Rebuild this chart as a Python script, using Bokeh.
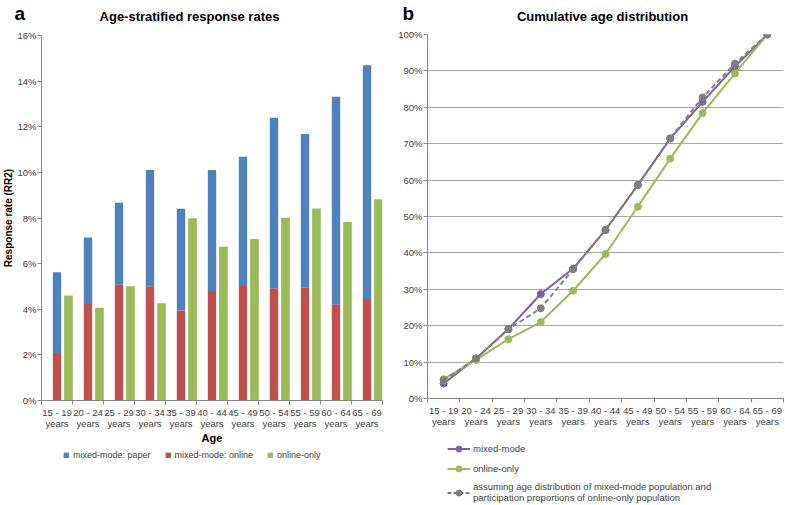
import numpy as np
from bokeh.plotting import figure
from bokeh.models import (ColumnDataSource, FixedTicker, PrintfTickFormatter, Label,
                          Legend, LegendItem, Range1d)
from bokeh.layouts import row, column
from bokeh.embed import file_html
from bokeh.resources import INLINE

# ---------------- data ----------------
ages = ["15 - 19", "20 - 24", "25 - 29", "30 - 34", "35 - 39", "40 - 44",
        "45 - 49", "50 - 54", "55 - 59", "60 - 64", "65 - 69"]
tick_labels = [a + "\nyears" for a in ages]

# panel a: response rates (%)
mixed_online = [2.08, 4.23, 5.07, 4.99, 3.94, 4.80, 5.02, 4.92, 4.94, 4.22, 4.45]
mixed_paper = [3.54, 2.92, 3.60, 5.11, 4.47, 5.30, 5.66, 7.47, 6.74, 9.09, 10.25]
online_only = [4.60, 4.07, 5.01, 4.26, 7.99, 6.74, 7.08, 8.01, 8.42, 7.82, 8.82]
y_ticks_a = [0, 2, 4, 6, 8, 10, 12, 14, 16]

# panel b: cumulative age distribution (%)
cum_mixed = [4.1, 11.0, 19.1, 28.7, 35.7, 46.3, 58.7, 71.4, 81.5, 91.2, 100.0]
cum_online = [5.3, 10.6, 16.3, 21.0, 29.6, 39.7, 52.7, 65.9, 78.4, 89.3, 100.0]
cum_assumed = [5.0, 11.0, 19.0, 24.8, 35.5, 46.3, 58.6, 71.5, 82.7, 92.0, 100.0]
y_ticks_b = [0, 10, 20, 30, 40, 50, 60, 70, 80, 90, 100]

# ---------------- style ----------------
FONT = "Liberation Sans"
BLUE = "#4F81BD"
RED = "#C0504D"
GREEN = "#9BBB59"
PURPLE = "#7E62A1"
GRAY = "#7F7F7F"
AXIS = "#868686"
TXT = "#404040"

n = len(ages)
centers = list(np.arange(n) + 0.5)
bounds = list(range(n + 1))
overrides = {float(c): lab for c, lab in zip(centers, tick_labels)}


def style_axes(p, yticks):
    xa = p.xaxis[0]
    xa.ticker = FixedTicker(ticks=centers, minor_ticks=bounds)
    xa.major_label_overrides = overrides
    xa.major_tick_out = 0
    xa.major_tick_in = 0
    xa.minor_tick_out = 4
    xa.minor_tick_in = 0
    xa.minor_tick_line_color = AXIS
    xa.axis_line_color = AXIS
    xa.major_label_text_font = FONT
    xa.major_label_text_font_size = "9.5px"
    xa.major_label_text_color = TXT
    xa.major_label_text_line_height = 1.0
    xa.major_label_standoff = 2
    ya = p.yaxis[0]
    ya.ticker = FixedTicker(ticks=yticks)
    ya.formatter = PrintfTickFormatter(format="%d%%")
    ya.major_tick_out = 4
    ya.major_tick_in = 0
    ya.minor_tick_out = 0
    ya.minor_tick_in = 0
    ya.major_tick_line_color = AXIS
    ya.axis_line_color = AXIS
    ya.major_label_text_font = FONT
    ya.major_label_text_font_size = "9.5px"
    ya.major_label_text_color = TXT
    ya.major_label_standoff = 1
    p.outline_line_color = None
    p.xgrid.visible = False


def blank(w, h):
    f = figure(width=w, height=h, x_range=Range1d(0, 1), y_range=Range1d(1000, 1001),
               output_backend="svg", toolbar_location=None, min_border=0,
               x_axis_location=None, y_axis_location=None)
    f.outline_line_color = None
    f.grid.visible = False
    return f


def label(text, x, y, size, align="left"):
    return Label(x=x, y=y, x_units="screen", y_units="screen", text=text,
                 text_font=FONT, text_font_style="bold", text_font_size=size,
                 text_align=align, text_baseline="middle", text_color="#000000")


W1, W2 = 392, 392
HH = 28
TOTAL = 503

# ---------------- header (titles) ----------------
hd = blank(W1 + W2, HH)
hd.add_layout(label("a", 14, 15, "19px"))
hd.add_layout(label("Age-stratified response rates", 189, 12, "13px", "center"))
hd.add_layout(label("b", 402, 15, "19px"))
hd.add_layout(label("Cumulative age distribution", 602, 12, "13px", "center"))

# ---------------- panel a ----------------
H1 = 418
p1 = figure(width=W1, height=H1, x_range=Range1d(0, n), y_range=Range1d(0, 16),
            output_backend="svg", toolbar_location=None,
            min_border_left=38, min_border_right=10, min_border_top=7, min_border_bottom=45)
style_axes(p1, y_ticks_a)
p1.ygrid.visible = False
xa1 = p1.xaxis[0]
xa1.axis_label = "Age"
xa1.axis_label_text_font = FONT
xa1.axis_label_text_font_style = "bold"
xa1.axis_label_text_font_size = "11px"
xa1.axis_label_text_color = "#000000"
xa1.axis_label_standoff = 0
ya1 = p1.yaxis[0]
ya1.axis_label = "Response rate (RR2)"
ya1.axis_label_text_font = FONT
ya1.axis_label_text_font_style = "bold"
ya1.axis_label_text_font_size = "10px"
ya1.axis_label_text_color = "#000000"
ya1.axis_label_standoff = 0

src_a = ColumnDataSource(dict(x=centers, x2=[c + 0.37 for c in centers],
                              online=mixed_online, paper=mixed_paper, only=online_only))
p1.vbar_stack(["online", "paper"], x="x", width=0.27, color=[RED, BLUE],
              line_color=None, source=src_a)
p1.vbar(x="x2", top="only", width=0.28, color=GREEN, line_color=None, source=src_a)

fa = blank(W1, TOTAL - HH - H1)
k_paper = fa.vbar(x="x", top="paper", width=0.27, color=BLUE, source=src_a)
k_online = fa.vbar(x="x", top="online", width=0.27, color=RED, source=src_a)
k_only = fa.vbar(x="x2", top="only", width=0.28, color=GREEN, source=src_a)
leg_a = Legend(items=[LegendItem(label="mixed-mode: paper", renderers=[k_paper]),
                      LegendItem(label="mixed-mode: online", renderers=[k_online]),
                      LegendItem(label="online-only", renderers=[k_only])],
               orientation="horizontal", location=(22, 42),
               border_line_color=None, background_fill_alpha=0,
               label_text_font=FONT, label_text_font_size="9px", label_text_color=TXT,
               glyph_width=6, glyph_height=6, label_height=12, label_standoff=4,
               spacing=14, padding=0, margin=0)
fa.add_layout(leg_a)

# ---------------- panel b ----------------
H2 = 408
p2 = figure(width=W2, height=H2, x_range=Range1d(0, n), y_range=Range1d(0, 100),
            output_backend="svg", toolbar_location=None,
            min_border_left=35, min_border_right=1, min_border_top=6, min_border_bottom=38)
style_axes(p2, y_ticks_b)
p2.ygrid.ticker = FixedTicker(ticks=y_ticks_b)
p2.ygrid.grid_line_color = "#A6A6A6"
p2.ygrid.grid_line_width = 1

src_b = ColumnDataSource(dict(x=centers, mixed=cum_mixed, online=cum_online, assumed=cum_assumed))
p2.line("x", "mixed", color=PURPLE, line_width=2, source=src_b)
p2.scatter("x", "mixed", size=7, color=PURPLE, source=src_b)
p2.line("x", "online", color=GREEN, line_width=2, source=src_b)
p2.scatter("x", "online", size=7, color=GREEN, source=src_b)
p2.line("x", "assumed", color=GRAY, line_width=2, line_dash="5 3", source=src_b)
p2.scatter("x", "assumed", size=7, color=GRAY, source=src_b)

fb = blank(W2, TOTAL - HH - H2)
km_l = fb.line("x", "mixed", color=PURPLE, line_width=2, source=src_b)
km_s = fb.scatter("x", "mixed", size=7, color=PURPLE, source=src_b)
ko_l = fb.line("x", "online", color=GREEN, line_width=2, source=src_b)
ko_s = fb.scatter("x", "online", size=7, color=GREEN, source=src_b)
ka_l = fb.line("x", "assumed", color=GRAY, line_width=2, line_dash="4 2", source=src_b)
ka_s = fb.scatter("x", "assumed", size=7, color=GRAY, source=src_b)
leg_b = Legend(items=[LegendItem(label="mixed-mode", renderers=[km_l, km_s]),
                      LegendItem(label="online-only", renderers=[ko_l, ko_s]),
                      LegendItem(label="assuming age distribution of mixed-mode population and\n"
                                       "participation proportions of online-only population",
                                 renderers=[ka_l, ka_s])],
               orientation="vertical", location=(20, 0),
               border_line_color=None, background_fill_alpha=0,
               label_text_font=FONT, label_text_font_size="9.5px", label_text_color=TXT,
               label_text_line_height=1.1,
               glyph_width=23, glyph_height=15, label_height=10, label_standoff=3,
               spacing=5, padding=0, margin=0)
fb.add_layout(leg_b)

layout = column(hd, row(column(p1, fa), column(p2, fb)))
open("out.html", "w").write(file_html(layout, INLINE))
